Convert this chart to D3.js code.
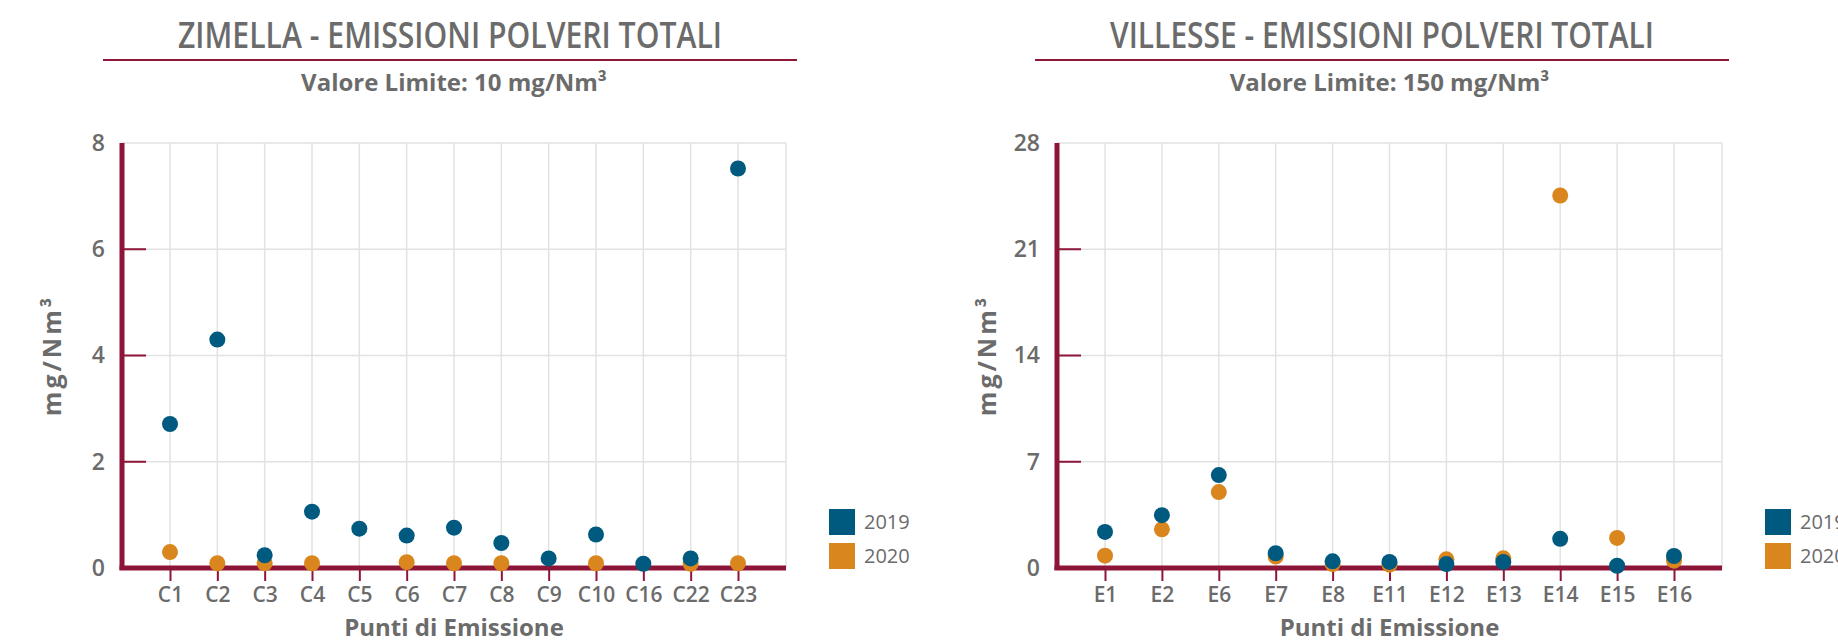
<!DOCTYPE html>
<html>
<head>
<meta charset="utf-8">
<script src="https://cdn.jsdelivr.net/npm/d3@7"></script>
<style>
  body { margin: 0; background: #fff; }
  svg { display: block; font-family: "Open Sans", sans-serif; }
</style>
</head>
<body>
<div id="chart"></div>
<script>
// data
const zimellaPoints = ["C1", "C2", "C3", "C4", "C5", "C6", "C7", "C8", "C9", "C10", "C16", "C22", "C23"];
const zimella2019 = [2.71, 4.30, 0.24, 1.06, 0.74, 0.61, 0.76, 0.47, 0.18, 0.63, 0.08, 0.18, 7.52];
const zimella2020 = [0.30, 0.09, 0.09, 0.09, null, 0.11, 0.09, 0.09, null, 0.09, null, 0.08, 0.09];
const zimellaTicks = [0, 2, 4, 6, 8];

const villessePoints = ["E1", "E2", "E6", "E7", "E8", "E11", "E12", "E13", "E14", "E15", "E16"];
const villesse2019 = [2.38, 3.48, 6.12, 0.97, 0.44, 0.40, 0.26, 0.40, 1.92, 0.15, 0.79];
const villesse2020 = [0.81, 2.55, 5.00, 0.75, 0.26, 0.22, 0.57, 0.64, 24.54, 1.98, 0.48];
const villesseTicks = [0, 7, 14, 21, 28];

const years = ["2019", "2020"];

const svgWidth = 1838;
const svgHeight = 642;

const red = "#8c1538";
const grey = "#6b6b6b";
const gridColor = "#e2e2e2";
const colors = {"2019": "#005a80", "2020": "#d9861e"};

const svg = d3.select("#chart")
  .append("svg")
  .attr("width", svgWidth)
  .attr("height", svgHeight);

const plotTop = 143;
const plotBottom = 568;

function drawChart(opt) {
  const g = svg.append("g");

  // title + red rule
  g.append("text")
    .attr("x", opt.titleX)
    .attr("y", 48)
    .attr("text-anchor", "middle")
    .attr("font-size", 36)
    .attr("font-weight", 600)
    .attr("textLength", 544)
    .attr("lengthAdjust", "spacingAndGlyphs")
    .attr("fill", grey)
    .text(opt.title);

  g.append("line")
    .attr("x1", opt.titleX - 347)
    .attr("x2", opt.titleX + 347)
    .attr("y1", 60).attr("y2", 60)
    .attr("stroke", red)
    .attr("stroke-width", 2);

  g.append("text")
    .attr("x", (opt.x0 + opt.x1) / 2)
    .attr("y", 91)
    .attr("text-anchor", "middle")
    .attr("font-size", 24)
    .attr("font-weight", "bold")
    .attr("fill", grey)
    .text(opt.subtitle);

  const xScale = d3.scalePoint()
    .domain(opt.points)
    .range([opt.x0 + 48, opt.x1 - 48]);

  const yScale = d3.scaleLinear()
    .domain([0, d3.max(opt.ticks)])
    .range([plotBottom, plotTop]);

  // grid
  const grid = g.append("g").attr("stroke", gridColor).attr("stroke-width", 1.5);
  grid.selectAll("line.h")
    .data(opt.ticks.filter(t => t > 0))
    .enter().append("line")
    .attr("x1", opt.x0).attr("x2", opt.x1)
    .attr("y1", d => yScale(d)).attr("y2", d => yScale(d));
  grid.selectAll("line.v")
    .data(opt.points)
    .enter().append("line")
    .attr("x1", d => xScale(d)).attr("x2", d => xScale(d))
    .attr("y1", plotTop).attr("y2", plotBottom);
  grid.append("line")
    .attr("x1", opt.x1).attr("x2", opt.x1)
    .attr("y1", plotTop).attr("y2", plotBottom);

  // y axis labels
  const yAxis = g.append("g")
    .attr("transform", `translate(${opt.x0}, 0)`)
    .call(d3.axisLeft(yScale).tickValues(opt.ticks).tickSize(0).tickPadding(17));
  yAxis.select(".domain").remove();
  yAxis.selectAll("text")
    .attr("font-size", 23)
    .attr("font-weight", 600)
    .attr("font-family", "Open Sans")
    .attr("fill", grey);

  // inner red ticks
  g.selectAll("line.ytick")
    .data(opt.ticks.filter(t => t > 0 && t < d3.max(opt.ticks)))
    .enter().append("line")
    .attr("x1", opt.x0).attr("x2", opt.x0 + 24)
    .attr("y1", d => yScale(d)).attr("y2", d => yScale(d))
    .attr("stroke", red)
    .attr("stroke-width", 2);

  // x axis
  const xAxis = g.append("g")
    .attr("transform", `translate(0, ${plotBottom})`)
    .call(d3.axisBottom(xScale).tickSize(13).tickPadding(6));
  xAxis.select(".domain").remove();
  xAxis.selectAll(".tick line").attr("stroke", red).attr("stroke-width", 2);
  xAxis.selectAll("text")
    .attr("font-size", 21)
    .attr("font-weight", 600)
    .attr("font-family", "Open Sans")
    .attr("fill", grey);

  // thick axis lines
  g.append("line")
    .attr("x1", opt.x0).attr("x2", opt.x0)
    .attr("y1", plotTop).attr("y2", plotBottom + 2)
    .attr("stroke", red).attr("stroke-width", 5);
  g.append("line")
    .attr("x1", opt.x0 - 2.5).attr("x2", opt.x1)
    .attr("y1", plotBottom).attr("y2", plotBottom)
    .attr("stroke", red).attr("stroke-width", 5);

  // axis titles
  g.append("text")
    .attr("x", (opt.x0 + opt.x1) / 2)
    .attr("y", 636)
    .attr("text-anchor", "middle")
    .attr("font-size", 24)
    .attr("font-weight", "bold")
    .attr("fill", grey)
    .text("Punti di Emissione");

  g.append("text")
    .attr("transform", `translate(${opt.x0 - 61}, ${(plotTop + plotBottom) / 2}) rotate(-90)`)
    .attr("text-anchor", "middle")
    .attr("font-size", 25)
    .attr("font-weight", "bold")
    .attr("letter-spacing", 3)
    .attr("fill", grey)
    .text("mg/Nm³");

  // points, 2020 under 2019
  [["2020", opt.v2020], ["2019", opt.v2019]].forEach(([year, values]) => {
    const rows = opt.points.map((p, i) => ({p: p, v: values[i]})).filter(d => d.v != null);
    g.selectAll(`circle.y${year}`)
      .data(rows)
      .enter().append("circle")
      .attr("cx", d => xScale(d.p))
      .attr("cy", d => yScale(d.v))
      .attr("r", 8)
      .attr("fill", colors[year]);
  });

  // legend
  const legend = g.append("g")
    .attr("transform", `translate(${opt.x1 + 43}, 509)`);
  years.forEach((yr, i) => {
    legend.append("rect")
      .attr("x", 0).attr("y", i * 34)
      .attr("width", 26).attr("height", 26)
      .attr("fill", colors[yr]);
    legend.append("text")
      .attr("x", 35).attr("y", i * 34 + 13)
      .attr("dy", "0.35em")
      .attr("font-size", 20)
      .attr("fill", grey)
      .text(yr);
  });
}

drawChart({
  title: "ZIMELLA - EMISSIONI POLVERI TOTALI",
  subtitle: "Valore Limite: 10 mg/Nm³",
  titleX: 450,
  x0: 122, x1: 786,
  points: zimellaPoints, v2019: zimella2019, v2020: zimella2020,
  ticks: zimellaTicks
});

drawChart({
  title: "VILLESSE - EMISSIONI POLVERI TOTALI",
  subtitle: "Valore Limite: 150 mg/Nm³",
  titleX: 1382,
  x0: 1057, x1: 1722,
  points: villessePoints, v2019: villesse2019, v2020: villesse2020,
  ticks: villesseTicks
});
</script>
</body>
</html>
